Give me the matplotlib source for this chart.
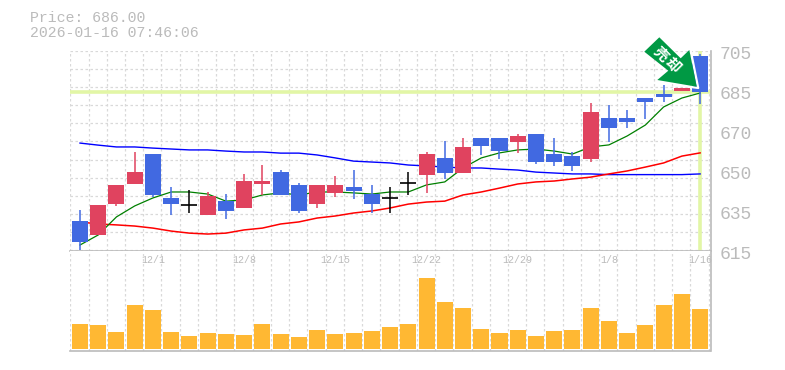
#!/usr/bin/env python3
import numpy as np
import matplotlib
matplotlib.use('Agg')
import matplotlib.pyplot as plt
from matplotlib.lines import Line2D
from matplotlib.patches import Polygon

W, H = 785, 370

opens = [629.7, 623.6, 637.2, 645.9, 659.0, 639.8, 636.6, 632.3, 638.4, 635.4, 645.9, 651.1,
         645.5, 637.2, 642.0, 644.6, 641.5, 639.8, 646.3, 649.8, 657.3, 650.7, 666.0, 666.0,
         664.3, 667.8, 659.0, 658.1, 656.8, 674.8, 674.8, 683.5, 685.3, 686.4, 701.9]
closes = [620.6, 636.7, 645.5, 651.1, 641.1, 637.2, 636.6, 640.6, 634.1, 647.2, 647.2, 641.1,
          634.1, 645.5, 645.5, 642.8, 637.2, 639.8, 646.3, 659.0, 650.7, 662.1, 662.5, 660.3,
          666.9, 655.5, 655.5, 653.8, 677.4, 670.4, 673.0, 681.8, 683.9, 688.1, 686.0]
highs = [634.5, 636.7, 645.5, 659.9, 659.0, 644.6, 643.3, 642.4, 641.5, 650.3, 654.2, 652.0,
         646.3, 645.5, 649.4, 652.0, 645.5, 644.6, 651.1, 659.9, 664.7, 666.0, 666.0, 666.0,
         667.8, 667.8, 666.0, 659.9, 681.3, 680.5, 678.3, 683.5, 689.2, 688.1, 702.8]
lows = [617.0, 623.6, 636.3, 645.9, 640.2, 632.3, 633.2, 632.3, 630.6, 635.4, 641.1, 641.1,
        633.2, 635.4, 640.2, 639.3, 633.2, 633.2, 641.1, 642.0, 648.1, 650.7, 658.6, 656.8,
        659.5, 654.7, 653.8, 651.6, 655.5, 664.3, 670.4, 674.3, 681.8, 686.4, 680.9]
volumes = [25, 24, 17, 44, 39, 17, 13, 16, 15, 14, 25, 15, 12, 19, 15, 16, 18, 22,
           25, 71, 47, 41, 20, 16, 19, 13, 18, 19, 41, 28, 16, 24, 44, 55, 40]

ma_short = [619.2, 623.6, 631.5, 636.3, 639.8, 642.4, 642.4, 641.5, 638.4, 638.9, 641.1, 642.0,
            641.1, 642.4, 642.4, 642.0, 641.5, 642.4, 642.4, 645.5, 646.8, 652.9, 657.3, 659.5,
            660.8, 661.2, 660.3, 659.0, 662.1, 663.0, 666.9, 671.7, 679.6, 683.5, 685.7]
ma_mid = [629.3, 628.4, 628.0, 627.5, 626.6, 625.3, 624.4, 624.0, 624.4, 625.8, 626.6, 628.4,
          629.3, 631.0, 631.9, 633.2, 634.1, 635.4, 637.1, 638.0, 638.4, 641.1, 642.4, 644.1,
          645.9, 646.8, 647.2, 648.1, 648.9, 650.3, 651.6, 653.3, 655.1, 658.1, 659.5]
ma_long = [663.8, 662.9, 662.1, 662.1, 661.6, 661.2, 660.8, 660.8, 660.3, 659.9, 659.9, 659.4,
           659.4, 658.6, 657.3, 655.9, 655.5, 655.1, 654.2, 653.8, 653.3, 652.9, 652.9, 652.4,
           652.0, 651.1, 650.7, 650.3, 650.3, 650.0, 650.0, 650.0, 650.0, 650.0, 650.3]

price_labels = ['705', '685', '670', '650', '635', '615']
price_label_pos = [702.5, 685.0, 667.5, 650.0, 632.5, 615.0]
date_labels = ['12/1', '12/8', '12/15', '12/22', '12/29', '1/8', '1/16']
date_pos = [4, 9, 14, 19, 24, 29, 34]
last_price = 686.0

UP = '#e0435f'
DOWN = '#4169e1'
VOL = '#ffb833'
GRID = '#d9d9d9'
FRAME = '#bbbbbb'
PALE = '#e2f6a6'
TEXT = '#bbbbbb'
MONO = 'Liberation Mono'


def style_axes(ax):
    ax.set_xlim(-0.548, 34.57)
    ax.set_xticks(np.arange(36) - 0.532)
    ax.grid(True, color=GRID, linestyle=(0, (2, 2)), linewidth=0.9)
    ax.set_axisbelow(True)
    ax.tick_params(length=0, labelleft=False, labelbottom=False)
    for side in ('top', 'left'):
        ax.spines[side].set_visible(False)
    for side in ('right', 'bottom'):
        ax.spines[side].set_color(FRAME)
        ax.spines[side].set_linewidth(1.2)


def draw_candles(ax):
    for i, (o, c, hi, lo) in enumerate(zip(opens, closes, highs, lows)):
        if o == c:
            color = 'black'
            ax.hlines(o, i - 0.44, i + 0.44, color=color, linewidth=1.2, zorder=5)
        else:
            color = UP if c > o else DOWN
            ax.bar(i, abs(c - o), bottom=min(o, c), width=0.88, color=color, zorder=5)
        ax.vlines(i, lo, hi, color=color, linewidth=1.1, zorder=4)


def to_fig(x, y):
    return x / W, 1 - y / H


def draw_arrow(fig):
    # sell signal marker, placed in pixel coordinates
    pts = [(644.3, 51.7), (659.3, 37.3), (680.7, 58.3), (689.3, 50.0),
           (696.7, 86.7), (657.3, 80.0), (668.3, 70.7)]
    fig.add_artist(Polygon([to_fig(x, y) for x, y in pts], closed=True, facecolor='#009944',
                           edgecolor='none', transform=fig.transFigure, zorder=10))
    # white edge only on the right of the head
    rim = [(690.6, 50.0), (698.2, 88.0), (686.0, 86.2)]
    xs, ys = zip(*[to_fig(x, y) for x, y in rim])
    fig.add_artist(Line2D(xs, ys, color='white', linewidth=1.6, transform=fig.transFigure, zorder=9))
    for ch, x, y in [('売', 660.7, 54.0), ('却', 672.7, 65.0)]:
        fx, fy = to_fig(x, y)
        fig.text(fx, fy, ch, color='white', fontsize=10.5, fontweight='bold',
                 family='Noto Sans CJK JP', rotation=-45, ha='center', va='center', zorder=11)


def main():
    fig = plt.figure(figsize=(W / 100, H / 100), dpi=100)
    ax = fig.add_axes([70 / W, 1 - 250.5 / H, 640.5 / W, 200 / H])
    vol_ax = fig.add_axes([70 / W, 1 - 350.5 / H, 640.5 / W, 100 / H])

    style_axes(ax)
    style_axes(vol_ax)

    ax.set_ylim(616.8, 704.3)
    ax.set_yticks(np.linspace(617.0, 704.1, 12))
    vol_ax.set_ylim(-2, 98)
    vol_ax.set_yticks([])

    x = np.arange(len(opens))
    ax.axhline(last_price, color=PALE, linewidth=2.6, zorder=1)
    ax.axvline(x[-1], color=PALE, linewidth=2.6, zorder=1)
    ax.plot(x, ma_long, color='blue', linewidth=1.0, zorder=2)
    ax.plot(x, ma_mid, color='red', linewidth=1.1, zorder=2)
    ax.plot(x, ma_short, color='green', linewidth=0.9, zorder=2)
    draw_candles(ax)

    vol_ax.bar(x, volumes, width=0.88, color=VOL, zorder=3)

    for lbl, val in zip(price_labels, price_label_pos):
        ax.annotate(lbl, (1, val), xycoords=ax.get_yaxis_transform(), xytext=(6.5, 0.4),
                    textcoords='offset points', color=TEXT, fontsize=13, family=MONO,
                    va='center', ha='left', annotation_clip=False)
    for lbl, pos in zip(date_labels, date_pos):
        vol_ax.annotate(lbl, (pos, 1), xycoords=vol_ax.get_xaxis_transform(), xytext=(0, -6.5),
                        textcoords='offset points', color=TEXT, fontsize=7.2, family=MONO,
                        va='center', ha='center', annotation_clip=False, zorder=6)

    fig.text(30 / W, 1 - 18 / H, 'Price: 686.00', color=TEXT, fontsize=10.7, family=MONO,
             va='center', ha='left')
    fig.text(30 / W, 1 - 33 / H, '2026-01-16 07:46:06', color=TEXT, fontsize=10.7, family=MONO,
             va='center', ha='left')

    draw_arrow(fig)
    fig.savefig('out.png', dpi=100)


if __name__ == "__main__":
    main()
